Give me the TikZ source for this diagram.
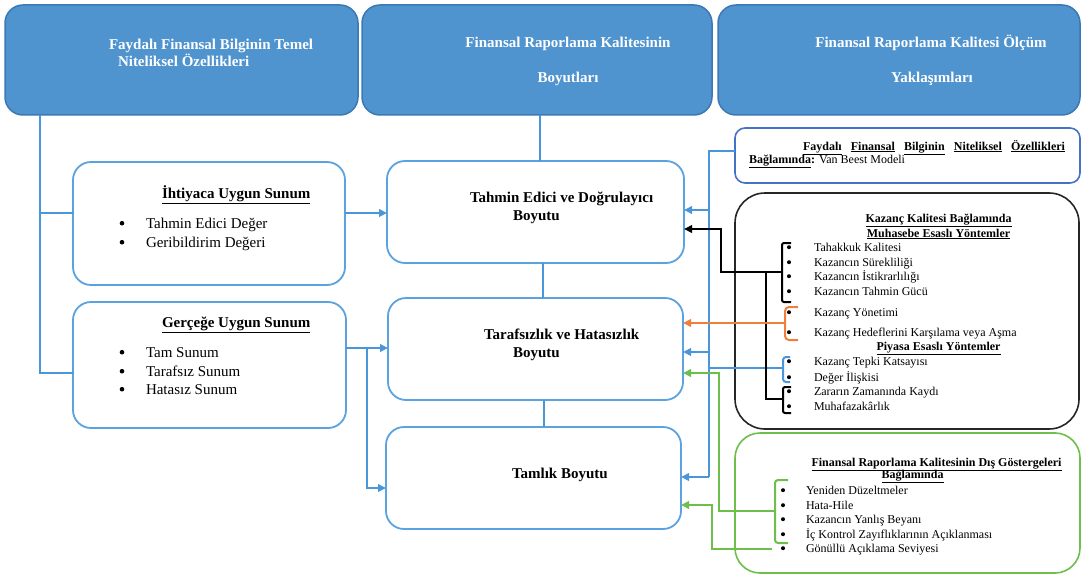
\documentclass[tikz,border=0pt]{standalone}
\usepackage{fontspec}
\setmainfont{Liberation Serif}
\usetikzlibrary{arrows.meta}
\definecolor{hdrfill}{HTML}{4F93CF}
\definecolor{hdrdraw}{HTML}{3B79B6}
\definecolor{lb}{HTML}{5BA3E0}
\definecolor{cb}{HTML}{4A96DA}
\definecolor{vbc}{HTML}{4472C4}
\definecolor{og}{HTML}{F07F3C}
\definecolor{gr}{HTML}{6DBE4A}
\begin{document}
\begin{tikzpicture}[x=1pt,y=-1pt,
  every node/.style={inner sep=0pt, outer sep=0pt},
  hdr/.style={draw=hdrdraw, fill=hdrfill, line width=1.5pt, rounded corners=18pt},
  bx/.style={draw=lb, line width=1.8pt, rounded corners=18pt, fill=white},
  cl/.style={draw=cb, line width=2pt},
  blk/.style={draw=black, line width=2pt},
  org/.style={draw=og, line width=2pt},
  grn/.style={draw=gr, line width=2pt},
  arr/.style={-{Triangle[length=8pt,width=7.5pt]}},
  htxt/.style={text=white, font=\fontsize{15}{18}\selectfont\bfseries},
  mtxt/.style={font=\fontsize{15}{18}\selectfont\bfseries},
  ltxt/.style={font=\fontsize{15}{18}\selectfont},
  rtxt/.style={font=\fontsize{12}{14}\selectfont},
  rbold/.style={font=\fontsize{12}{14}\selectfont\bfseries},
]
\useasboundingbox (0,0) rectangle (1083,575);
% header boxes
\node[hdr, minimum width=353pt, minimum height=110pt] (h1) at (181.5,60) {};
\node[hdr, minimum width=350pt, minimum height=110pt] (h2) at (537,60) {};
\node[hdr, minimum width=362pt, minimum height=110pt] (h3) at (899,60) {};
% left boxes
\node[bx, minimum width=272pt, minimum height=123pt] (ih) at (209,223.5) {};
\node[bx, minimum width=273pt, minimum height=126pt] (gc) at (209.5,365) {};
% middle boxes
\node[bx, minimum width=297pt, minimum height=102pt] (ta) at (535.5,212) {};
\node[bx, minimum width=295pt, minimum height=102pt] (tf) at (535.5,349) {};
\node[bx, minimum width=295pt, minimum height=102pt] (tm) at (533.5,478) {};
% right boxes
\node[draw=vbc, line width=1.6pt, rounded corners=10pt, minimum width=345pt, minimum height=55pt] (vb) at (907.5,155.5) {};
\node[draw=black!85, line width=1.6pt, rounded corners=30pt, minimum width=344pt, minimum height=236pt] (kk) at (907,311) {};
\node[draw=gr, line width=1.6pt, rounded corners=25pt, minimum width=345pt, minimum height=140pt] (dg) at (907.5,503) {};

% left tree
\coordinate (la) at (40,373);
\coordinate (lb) at (40,213);
\draw[cl] (h1.south -| la) -- (la) -- (gc.west |- la);
\draw[cl] (lb) -- (ih.west |- lb);
\draw[cl,arr] (ih.east |- lb) -- (ta.west |- lb);
\coordinate (ga) at (367,348);
\coordinate (gb) at (367,488);
\draw[cl,arr] (gc.east |- ga) -- (tf.west |- ga);
\draw[cl,arr] (ga) -- (gb) -- (tm.west |- gb);
% middle verticals
\coordinate (m1) at (540,0);
\coordinate (m2) at (543,0);
\coordinate (m3) at (544,0);
\draw[cl] (h2.south -| m1) -- (ta.north -| m1);
\draw[cl] (ta.south -| m2) -- (tf.north -| m2);
\draw[cl] (tf.south -| m3) -- (tm.north -| m3);
% blue right network
\coordinate (ba) at (709,151);
\coordinate (bb) at (709,477);
\coordinate (bc) at (709,210);
\coordinate (bd) at (709,352);
\coordinate (be) at (709,368);
\coordinate (bq) at (783,368);
\draw[cl] (vb.west |- ba) -- (ba) -- (bb);
\draw[cl,arr] (bb) -- (tm.east |- bb);
\draw[cl,arr] (bc) -- (ta.east |- bc);
\draw[cl,arr] (bd) -- (tf.east |- bd);
\draw[cl] (be) -- (bq);
\draw[cl, rounded corners=3pt] (790,357) -- (783,357) -- (783,382) -- (790,382);
% black
\coordinate (ka) at (721,229);
\coordinate (kb) at (721,272);
\coordinate (kq1) at (782,272);
\coordinate (kc) at (766,272);
\coordinate (kd) at (766,399);
\coordinate (kq2) at (783,399);
\draw[blk,arr] (kq1) -- (kb) -- (ka) -- (ta.east |- ka);
\draw[blk] (kc) -- (kd) -- (kq2);
\draw[blk, rounded corners=2pt] (791,243) -- (782,243) -- (782,302) -- (791,302);
\draw[blk, rounded corners=2pt] (791,387) -- (783,387) -- (783,413) -- (791,413);
% orange
\coordinate (oq) at (785,323);
\draw[org,arr] (oq) -- (tf.east |- oq);
\draw[org, rounded corners=4pt] (798,307) -- (785,307) -- (785,340) -- (798,340);
% green
\coordinate (gq) at (775,511);
\coordinate (g1) at (719,511);
\coordinate (g2) at (719,373);
\coordinate (g3) at (772,549);
\coordinate (g4) at (712,549);
\coordinate (g5) at (712,505);
\draw[grn,arr] (gq) -- (g1) -- (g2) -- (tf.east |- g2);
\draw[grn,arr] (g3) -- (g4) -- (g5) -- (tm.east |- g5);
\draw[grn, rounded corners=3pt] (788,480) -- (775,480) -- (775,543) -- (788,543);

% bullets
\foreach \y in {228,247,357,376,394} \fill (122,\y-4.8) circle (2.3pt);
\foreach \y in {251,266,280,295,316,336,365,381,395,410} \fill (789,\y-3.8) circle (2pt);
\foreach \y in {494,509,523,538,552} \fill (783,\y-3.8) circle (2pt);

% header texts
\node[htxt, anchor=base west] (h1a) at (109,50) {Faydalı Finansal Bilginin Temel};
\node[htxt, anchor=base west] (h1b) at (118,67) {Niteliksel Özellikleri};
\node[htxt, anchor=base] (h2a) at (568,48) {Finansal Raporlama Kalitesinin};
\node[htxt, anchor=base] (h2b) at (568,83) {Boyutları};
\node[htxt, anchor=base] (h3a) at (931,48) {Finansal Raporlama Kalitesi Ölçüm};
\node[htxt, anchor=base] (h3b) at (932,83) {Yaklaşımları};
% left texts
\node[mtxt, anchor=base west] (iht) at (162,198) {\underline{İhtiyaca Uygun Sunum}};
\node[ltxt, anchor=base west] (ih1) at (146,228) {Tahmin Edici Değer};
\node[ltxt, anchor=base west] (ih2) at (146,247) {Geribildirim Değeri};
\node[mtxt, anchor=base west] (gct) at (162,327) {\underline{Gerçeğe Uygun Sunum}};
\node[ltxt, anchor=base west] (gc1) at (146,357) {Tam Sunum};
\node[ltxt, anchor=base west] (gc2) at (146,376) {Tarafsız Sunum};
\node[ltxt, anchor=base west] (gc3) at (146,394) {Hatasız Sunum};
% middle texts
\node[mtxt, anchor=base west] (ta1) at (470,202) {Tahmin Edici ve Doğrulayıcı};
\node[mtxt, anchor=base west] (ta2) at (513,220) {Boyutu};
\node[mtxt, anchor=base west] (tf1) at (484,339) {Tarafsızlık ve Hatasızlık};
\node[mtxt, anchor=base west] (tf2) at (513,357) {Boyutu};
\node[mtxt, anchor=base west] (tm1) at (512,478) {Tamlık Boyutu};
% Van Beest
\node[rbold, anchor=base west] (vb1) at (803,150) {\makebox[262pt]{\underline{Faydalı}\hfill\underline{Finansal}\hfill\underline{Bilginin}\hfill\underline{Niteliksel}\hfill\underline{Özellikleri}}};
\node[rtxt, anchor=base west] (vb2) at (749,163) {\textbf{\underline{Bağlamında}:} Van Beest Modeli};
% black box texts
\node[rbold, anchor=base] (kt1) at (938.5,222) {\underline{Kazanç Kalitesi Bağlamında}};
\node[rbold, anchor=base] (kt2) at (938.5,237) {\underline{Muhasebe Esaslı Yöntemler}};
\node[rtxt, anchor=base west] (k1) at (814,251) {Tahakkuk Kalitesi};
\node[rtxt, anchor=base west] (k2) at (814,266) {Kazancın Sürekliliği};
\node[rtxt, anchor=base west] (k3) at (814,280) {Kazancın İstikrarlılığı};
\node[rtxt, anchor=base west] (k4) at (814,295) {Kazancın Tahmin Gücü};
\node[rtxt, anchor=base west] (k5) at (814,316) {Kazanç Yönetimi};
\node[rtxt, anchor=base west] (k6) at (814,336) {Kazanç Hedeflerini Karşılama veya Aşma};
\node[rbold, anchor=base] (kt3) at (938.5,350) {\underline{Piyasa Esaslı Yöntemler}};
\node[rtxt, anchor=base west] (k7) at (814,365) {Kazanç Tepki Katsayısı};
\node[rtxt, anchor=base west] (k8) at (814,381) {Değer İlişkisi};
\node[rtxt, anchor=base west] (k9) at (814,395) {Zararın Zamanında Kaydı};
\node[rtxt, anchor=base west] (k10) at (814,410) {Muhafazakârlık};
% green box texts
\node[rbold, anchor=base] (dt1) at (936.5,466) {\underline{Finansal Raporlama Kalitesinin Dış Göstergeleri}};
\node[rbold, anchor=base] (dt2) at (912.5,478) {\underline{Bağlamında}};
\node[rtxt, anchor=base west] (d1) at (806,494) {Yeniden Düzeltmeler};
\node[rtxt, anchor=base west] (d2) at (806,509) {Hata-Hile};
\node[rtxt, anchor=base west] (d3) at (806,523) {Kazancın Yanlış Beyanı};
\node[rtxt, anchor=base west] (d4) at (806,538) {İç Kontrol Zayıflıklarının Açıklanması};
\node[rtxt, anchor=base west] (d5) at (806,552) {Gönüllü Açıklama Seviyesi};
\end{tikzpicture}
\end{document}
